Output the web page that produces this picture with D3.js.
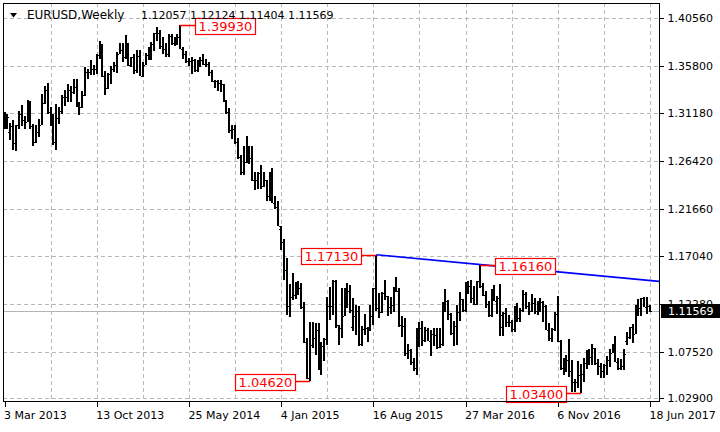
<!DOCTYPE html>
<html>
<head>
<meta charset="utf-8">
<script src="https://cdnjs.cloudflare.com/ajax/libs/d3/7.8.5/d3.min.js"></script>
<style>
  body { margin: 0; background: #fff; }
  svg { display: block; font-family: "DejaVu Sans", sans-serif; }
  .grid line { stroke: #b8b8b8; stroke-dasharray: 4,3; shape-rendering: crispEdges; }
  .axis path { display: none; }
  .axis line { stroke: #000; shape-rendering: crispEdges; }
  .axis text { fill: #000; font-size: 11px; font-family: "DejaVu Sans", sans-serif; }
</style>
</head>
<body>
<div id="chart"></div>
<script>
var symbol = "EURUSD,Weekly";

// weekly bars, 3 Mar 2013 .. 18 Jun 2017
var open = [
1.3020,1.3005,1.2930,1.2990,1.2820,1.2995,1.3110,1.3050,1.3030,1.3115,
1.2990,1.2835,1.2930,1.3000,1.3220,1.3345,1.3125,1.3010,1.2830,1.3070,
1.3140,1.3280,1.3280,1.3345,1.3325,1.3380,1.3220,1.3180,1.3300,1.3525,
1.3525,1.3555,1.3555,1.3690,1.3800,1.3485,1.3365,1.3500,1.3555,1.3590,
1.3705,1.3745,1.3675,1.3745,1.3590,1.3670,1.3540,1.3680,1.3485,1.3595,
1.3690,1.3745,1.3800,1.3910,1.3910,1.3780,1.3750,1.3705,1.3885,1.3815,
1.3830,1.3870,1.3755,1.3700,1.3630,1.3635,1.3645,1.3540,1.3610,1.3645,
1.3600,1.3605,1.3525,1.3430,1.3430,1.3410,1.3400,1.3240,1.3130,1.2950,
1.2960,1.2830,1.2685,1.2530,1.2630,1.2760,1.2670,1.2450,1.2450,1.2525,
1.2390,1.2450,1.2290,1.2465,1.2230,1.2190,1.1965,1.1840,1.1565,1.1205,
1.1290,1.1315,1.1385,1.1380,1.1195,1.0845,1.0495,1.0820,1.0890,1.0970,
1.0600,1.0810,1.0875,1.1200,1.1200,1.1450,1.1015,1.0990,1.1110,1.1265,
1.1350,1.1000,1.1110,1.1160,1.0825,1.0980,1.0985,1.0970,1.1105,1.1385,
1.1180,1.1150,1.1335,1.1300,1.1195,1.1215,1.1355,1.1350,1.1015,1.1005,
1.0740,1.0770,1.0645,1.0590,1.0885,1.0990,1.0865,1.0965,1.0860,1.0925,
1.0915,1.0795,1.0830,1.1155,1.1255,1.1130,1.0935,1.1005,1.1150,1.1270,
1.1165,1.1390,1.1400,1.1285,1.1225,1.1450,1.1400,1.1310,1.1220,1.1115,
1.1365,1.1255,1.1280,1.1000,1.1140,1.1045,1.1045,1.0975,1.1175,1.1085,
1.1165,1.1325,1.1200,1.1155,1.1235,1.1155,1.1225,1.1240,1.1205,1.0970,
1.0885,1.0980,1.1130,1.0855,1.0590,1.0590,1.0665,1.0560,1.0455,1.0455,
1.0520,1.0530,1.0640,1.0700,1.0695,1.0785,1.0640,1.0615,1.0560,1.0620,
1.0670,1.0740,1.0800,1.0650,1.0590,1.0615,1.0860,1.0895,1.0995,1.0930,
1.1205,1.1180,1.1280,1.1195,1.12057
];
var high = [
1.3130,1.3110,1.3020,1.3050,1.3000,1.3140,1.3200,1.3090,1.3245,1.3240,
1.3005,1.2995,1.3060,1.3305,1.3390,1.3415,1.3175,1.3110,1.3205,1.3180,
1.3300,1.3345,1.3400,1.3390,1.3450,1.3450,1.3230,1.3340,1.3570,1.3555,
1.3645,1.3590,1.3705,1.3830,1.3805,1.3530,1.3510,1.3580,1.3620,1.3720,
1.3810,1.3810,1.3895,1.3815,1.3670,1.3700,1.3740,1.3740,1.3620,1.3710,
1.3770,1.3825,1.3915,1.3965,1.3945,1.3875,1.3810,1.3905,1.3905,1.3870,
1.3905,1.3993,1.3775,1.3735,1.3665,1.3675,1.3650,1.3645,1.3675,1.3700,
1.3650,1.3620,1.3545,1.3445,1.3440,1.3445,1.3405,1.3245,1.3165,1.2995,
1.3000,1.2865,1.2705,1.2790,1.2885,1.2795,1.2790,1.2530,1.2530,1.2600,
1.2530,1.2455,1.2530,1.2570,1.2290,1.2250,1.2000,1.1870,1.1680,1.1425,
1.1535,1.1445,1.1450,1.1430,1.1245,1.0885,1.1045,1.1050,1.1035,1.1035,
1.0850,1.0890,1.1290,1.1390,1.1465,1.1465,1.1020,1.1380,1.1385,1.1435,
1.1410,1.1280,1.1215,1.1200,1.1010,1.1130,1.1000,1.1215,1.1385,1.1713,
1.1335,1.1340,1.1460,1.1305,1.1290,1.1390,1.1495,1.1385,1.1105,1.1090,
1.0825,1.0775,1.0690,1.0985,1.1045,1.1060,1.0995,1.0990,1.0970,1.0990,
1.0990,1.0985,1.1245,1.1375,1.1265,1.1135,1.1055,1.1215,1.1340,1.1275,
1.1440,1.1455,1.1465,1.1400,1.1455,1.1616,1.1435,1.1350,1.1250,1.1370,
1.1415,1.1300,1.1425,1.1145,1.1185,1.1120,1.1070,1.1200,1.1235,1.1185,
1.1365,1.1340,1.1240,1.1325,1.1280,1.1255,1.1285,1.1250,1.1210,1.1040,
1.0990,1.1145,1.1300,1.0865,1.0690,1.0715,1.0875,1.0670,1.0485,1.0655,
1.0630,1.0685,1.0770,1.0775,1.0830,1.0790,1.0680,1.0635,1.0630,1.0710,
1.0780,1.0830,1.0905,1.0690,1.0680,1.0775,1.0950,1.1000,1.1025,1.1210,
1.1270,1.1285,1.1295,1.1295,1.12124
];
var low = [
1.2955,1.2955,1.2845,1.2750,1.2745,1.2955,1.2990,1.2955,1.3025,1.2955,
1.2795,1.2820,1.2880,1.2995,1.3205,1.3110,1.2990,1.2805,1.2755,1.3010,
1.3105,1.3185,1.3225,1.3230,1.3310,1.3175,1.3100,1.3170,1.3290,1.3450,
1.3490,1.3490,1.3505,1.3650,1.3475,1.3295,1.3360,1.3400,1.3520,1.3515,
1.3700,1.3625,1.3655,1.3585,1.3575,1.3505,1.3510,1.3480,1.3475,1.3590,
1.3640,1.3640,1.3730,1.3830,1.3750,1.3705,1.3670,1.3675,1.3790,1.3780,
1.3795,1.3750,1.3650,1.3615,1.3585,1.3505,1.3520,1.3525,1.3575,1.3590,
1.3575,1.3480,1.3425,1.3365,1.3335,1.3330,1.3225,1.3110,1.2920,1.2860,
1.2815,1.2665,1.2500,1.2500,1.2620,1.2615,1.2440,1.2355,1.2360,1.2360,
1.2385,1.2245,1.2250,1.2225,1.2165,1.1995,1.1755,1.1460,1.1115,1.1100,
1.1260,1.1270,1.1315,1.1175,1.0840,1.0485,1.0462,1.0790,1.0715,1.0570,
1.0520,1.0660,1.0820,1.1065,1.1120,1.0990,1.0820,1.0885,1.1105,1.1185,
1.1135,1.0955,1.0915,1.0810,1.0810,1.0920,1.0850,1.0955,1.1015,1.1160,
1.1085,1.1140,1.1265,1.1105,1.1125,1.1150,1.1345,1.1000,1.0900,1.0705,
1.0675,1.0620,1.0560,1.0525,1.0795,1.0805,1.0850,1.0855,1.0710,1.0805,
1.0780,1.0790,1.0810,1.1150,1.1065,1.0915,1.0810,1.0820,1.1055,1.1145,
1.1145,1.1325,1.1235,1.1215,1.1215,1.1385,1.1305,1.1180,1.1095,1.1100,
1.1250,1.1130,1.0910,1.0910,1.1000,1.1000,1.0950,1.0950,1.1045,1.1045,
1.1150,1.1175,1.1120,1.1150,1.1125,1.1120,1.1150,1.1045,1.0965,1.0860,
1.0850,1.0960,1.0845,1.0570,1.0520,1.0550,1.0505,1.0350,1.0350,1.0390,
1.0340,1.0455,1.0580,1.0620,1.0620,1.0620,1.0520,1.0495,1.0495,1.0525,
1.0600,1.0735,1.0645,1.0570,1.0570,1.0570,1.0820,1.0880,1.0840,1.0925,
1.1110,1.1110,1.1190,1.1130,1.11404
];
var close = [
1.3005,1.3075,1.2990,1.2817,1.2994,1.3110,1.3050,1.3030,1.3115,1.2990,
1.2835,1.2930,1.3000,1.3220,1.3345,1.3125,1.3010,1.2830,1.3070,1.3140,
1.3280,1.3280,1.3345,1.3325,1.3380,1.3220,1.3180,1.3300,1.3525,1.3525,
1.3555,1.3555,1.3690,1.3800,1.3485,1.3365,1.3500,1.3555,1.3590,1.3705,
1.3745,1.3675,1.3745,1.3590,1.3670,1.3540,1.3680,1.3485,1.3595,1.3690,
1.3745,1.3800,1.3910,1.3910,1.3780,1.3750,1.3705,1.3885,1.3815,1.3830,
1.3870,1.3755,1.3700,1.3630,1.3635,1.3645,1.3540,1.3610,1.3645,1.3600,
1.3605,1.3525,1.3430,1.3430,1.3410,1.3400,1.3240,1.3130,1.2950,1.2960,
1.2830,1.2685,1.2530,1.2630,1.2760,1.2670,1.2450,1.2450,1.2525,1.2390,
1.2450,1.2290,1.2465,1.2230,1.2190,1.2000,1.1840,1.1565,1.1205,1.1290,
1.1315,1.1385,1.1380,1.1195,1.0845,1.0495,1.0820,1.0890,1.0970,1.0600,
1.0810,1.0875,1.1200,1.1200,1.1450,1.1015,1.0990,1.1110,1.1265,1.1350,
1.1165,1.1110,1.1160,1.0825,1.0980,1.0985,1.0970,1.1105,1.1385,1.1180,
1.1150,1.1335,1.1300,1.1195,1.1215,1.1355,1.1350,1.1015,1.1005,1.0740,
1.0770,1.0645,1.0590,1.0885,1.0990,1.0865,1.0965,1.0860,1.0925,1.0915,
1.0795,1.0830,1.1155,1.1255,1.1130,1.0935,1.1005,1.1150,1.1270,1.1165,
1.1390,1.1400,1.1285,1.1225,1.1450,1.1400,1.1310,1.1220,1.1115,1.1365,
1.1255,1.1280,1.1115,1.1140,1.1045,1.1045,1.0975,1.1175,1.1085,1.1165,
1.1325,1.1200,1.1155,1.1235,1.1155,1.1225,1.1240,1.1205,1.0970,1.0885,
1.0980,1.1130,1.0855,1.0590,1.0590,1.0665,1.0560,1.0455,1.0455,1.0520,
1.0530,1.0640,1.0700,1.0695,1.0785,1.0640,1.0615,1.0560,1.0620,1.0670,
1.0740,1.0800,1.0650,1.0590,1.0615,1.0725,1.0895,1.0995,1.0930,1.1205,
1.1180,1.1280,1.1195,1.1200,1.11569
];

var priceTicks = [1.40560, 1.35800, 1.31180, 1.26420, 1.21660, 1.17040, 1.12280, 1.07520, 1.02900];
var dateTicks = ["2013-03-03", "2013-10-13", "2014-05-25", "2015-01-04", "2015-08-16", "2016-03-27", "2016-11-06", "2017-06-18"];

// swing labels: bar index, price, which side the box sits
var swingIdx   = [61, 129, 165, 106, 200];
var swingPrice = [1.39930, 1.17130, 1.16160, 1.04620, 1.03400];
var swingSide  = ["right", "left", "right", "left", "left"];

// trend line through the two lower highs
var trendIdx = [129, 165];
var trendPrice = [1.17130, 1.16160];

var width = 720, height = 432;
var plotL = 3, plotR = 659, plotT = 3, plotB = 401;

var parse = d3.utcParse("%Y-%m-%d");
var dates = d3.utcWeek.range(parse("2013-03-03"), parse("2017-06-19"));
var last = dates.length - 1;

var x = d3.scaleUtc()
    .domain([parse("2013-03-03"), parse("2017-06-18")])
    .range([4.5, 650]);

var y = d3.scaleLinear()
    .domain([1.02900, 1.40560])
    .range([398.3, 18.3]);

var svg = d3.select("#chart").append("svg")
    .attr("width", width)
    .attr("height", height);

svg.append("rect").attr("width", width).attr("height", height).attr("fill", "#fff");

svg.append("defs").append("clipPath").attr("id", "plotclip")
  .append("rect").attr("x", plotL).attr("y", plotT)
    .attr("width", plotR - plotL).attr("height", plotB - plotT);

// grid
var grid = svg.append("g").attr("class", "grid");
grid.selectAll(".h").data(priceTicks).enter().append("line")
    .attr("x1", plotL).attr("x2", plotR)
    .attr("y1", function(d) { return Math.round(y(d)) + 0.5; })
    .attr("y2", function(d) { return Math.round(y(d)) + 0.5; });

var vGrid = dates.filter(function(d, i) { return i % 16 == 0 && i > 0; });
grid.selectAll(".v").data(vGrid).enter().append("line")
    .attr("y1", plotT).attr("y2", plotB)
    .attr("x1", function(d) { return Math.round(x(d)) + 0.5; })
    .attr("x2", function(d) { return Math.round(x(d)) + 0.5; });

// current price line
svg.append("line")
    .attr("x1", plotL).attr("x2", plotR)
    .attr("y1", Math.round(y(close[last])) + 0.5)
    .attr("y2", Math.round(y(close[last])) + 0.5)
    .attr("stroke", "#b4b4b4")
    .attr("shape-rendering", "crispEdges");

// bars
var bars = svg.append("g").attr("clip-path", "url(#plotclip)")
    .attr("fill", "#000").attr("shape-rendering", "crispEdges");

var idx = d3.range(dates.length);
bars.selectAll(".hl").data(idx).enter().append("rect")
    .attr("x", function(i) { return Math.round(x(dates[i])) - 1; })
    .attr("width", 2)
    .attr("y", function(i) { return y(high[i]); })
    .attr("height", function(i) { return Math.max(1, y(low[i]) - y(high[i])); });

bars.selectAll(".o").data(idx).enter().append("rect")
    .attr("x", function(i) { return Math.round(x(dates[i])) - 2; })
    .attr("width", 1).attr("height", 1)
    .attr("y", function(i) { return Math.round(y(open[i])); });

bars.selectAll(".c").data(idx).enter().append("rect")
    .attr("x", function(i) { return Math.round(x(dates[i])) + 1; })
    .attr("width", 1).attr("height", 1)
    .attr("y", function(i) { return Math.round(y(close[i])); });

// trend line, extended to the right edge
var tx1 = x(dates[trendIdx[0]]), ty1 = y(trendPrice[0]);
var tx2 = x(dates[trendIdx[1]]), ty2 = y(trendPrice[1]);
var slope = (ty2 - ty1) / (tx2 - tx1);
svg.append("line")
    .attr("clip-path", "url(#plotclip)")
    .attr("x1", tx1).attr("y1", ty1)
    .attr("x2", plotR).attr("y2", ty1 + slope * (plotR - tx1))
    .attr("stroke", "#0000ff")
    .attr("stroke-width", 1.6);

// swing labels
var fmt = d3.format(".5f");
var boxW = 60, boxH = 16, gap = 15;
var lab = svg.append("g");
swingIdx.forEach(function(bi, k) {
  var bx = Math.round(x(dates[bi]));
  var by = Math.round(y(swingPrice[k])) + 0.5;
  var bx0 = swingSide[k] == "right" ? bx + gap : bx - gap - boxW;
  var edge = swingSide[k] == "right" ? bx0 : bx0 + boxW;
  lab.append("line")
      .attr("x1", bx).attr("x2", edge)
      .attr("y1", by).attr("y2", by)
      .attr("stroke", "#ff0000").attr("stroke-width", 1.5);
  lab.append("rect")
      .attr("x", bx0 + 0.5).attr("y", Math.round(by - boxH / 2) + 0.5)
      .attr("width", boxW).attr("height", boxH)
      .attr("fill", "#fff").attr("stroke", "#ff0000").attr("stroke-width", 1.2);
  lab.append("text")
      .attr("x", bx0 + boxW / 2 + 0.5).attr("y", by + 5)
      .attr("text-anchor", "middle")
      .attr("fill", "#ff0000")
      .style("font-size", "13px")
      .text(fmt(swingPrice[k]));
});

// frame
svg.append("rect")
    .attr("x", plotL + 0.5).attr("y", plotT + 0.5)
    .attr("width", plotR - plotL).attr("height", plotB - plotT)
    .attr("fill", "none").attr("stroke", "#000")
    .attr("shape-rendering", "crispEdges");

// right price axis
var yAxis = d3.axisRight(y)
    .tickValues(priceTicks)
    .tickFormat(fmt)
    .tickSize(4)
    .tickPadding(4);
svg.append("g").attr("class", "axis")
    .attr("transform", "translate(" + (plotR + 0.5) + ",0)")
    .call(yAxis);

// current price tag
var cy = y(close[last]);
svg.append("rect")
    .attr("x", plotR + 2).attr("y", Math.round(cy) - 7)
    .attr("width", width - plotR - 2).attr("height", 14)
    .attr("fill", "#000");
svg.append("text")
    .attr("x", plotR + 9).attr("y", Math.round(cy) + 4)
    .attr("fill", "#fff")
    .style("font-size", "11px")
    .text(fmt(close[last]));

// bottom date axis
var xAxis = d3.axisBottom(x)
    .tickValues(dateTicks.map(parse))
    .tickFormat(d3.utcFormat("%-d %b %Y"))
    .tickSize(5)
    .tickPadding(5);
var gx = svg.append("g").attr("class", "axis")
    .attr("transform", "translate(0," + (plotB + 0.5) + ")")
    .call(xAxis);
gx.selectAll("text").attr("text-anchor", "start").attr("x", -1);

// title
svg.append("path")
    .attr("d", "M10,13 L17,13 L13.5,17.5 Z")
    .attr("fill", "#000");
svg.append("text")
    .attr("x", 27).attr("y", 19)
    .attr("fill", "#000")
    .style("font-size", "12px")
    .text(symbol);
svg.append("text")
    .attr("x", 141).attr("y", 19)
    .attr("fill", "#000")
    .style("font-size", "11px")
    .text([open[last], high[last], low[last], close[last]].map(fmt).join(" "));
</script>
</body>
</html>
